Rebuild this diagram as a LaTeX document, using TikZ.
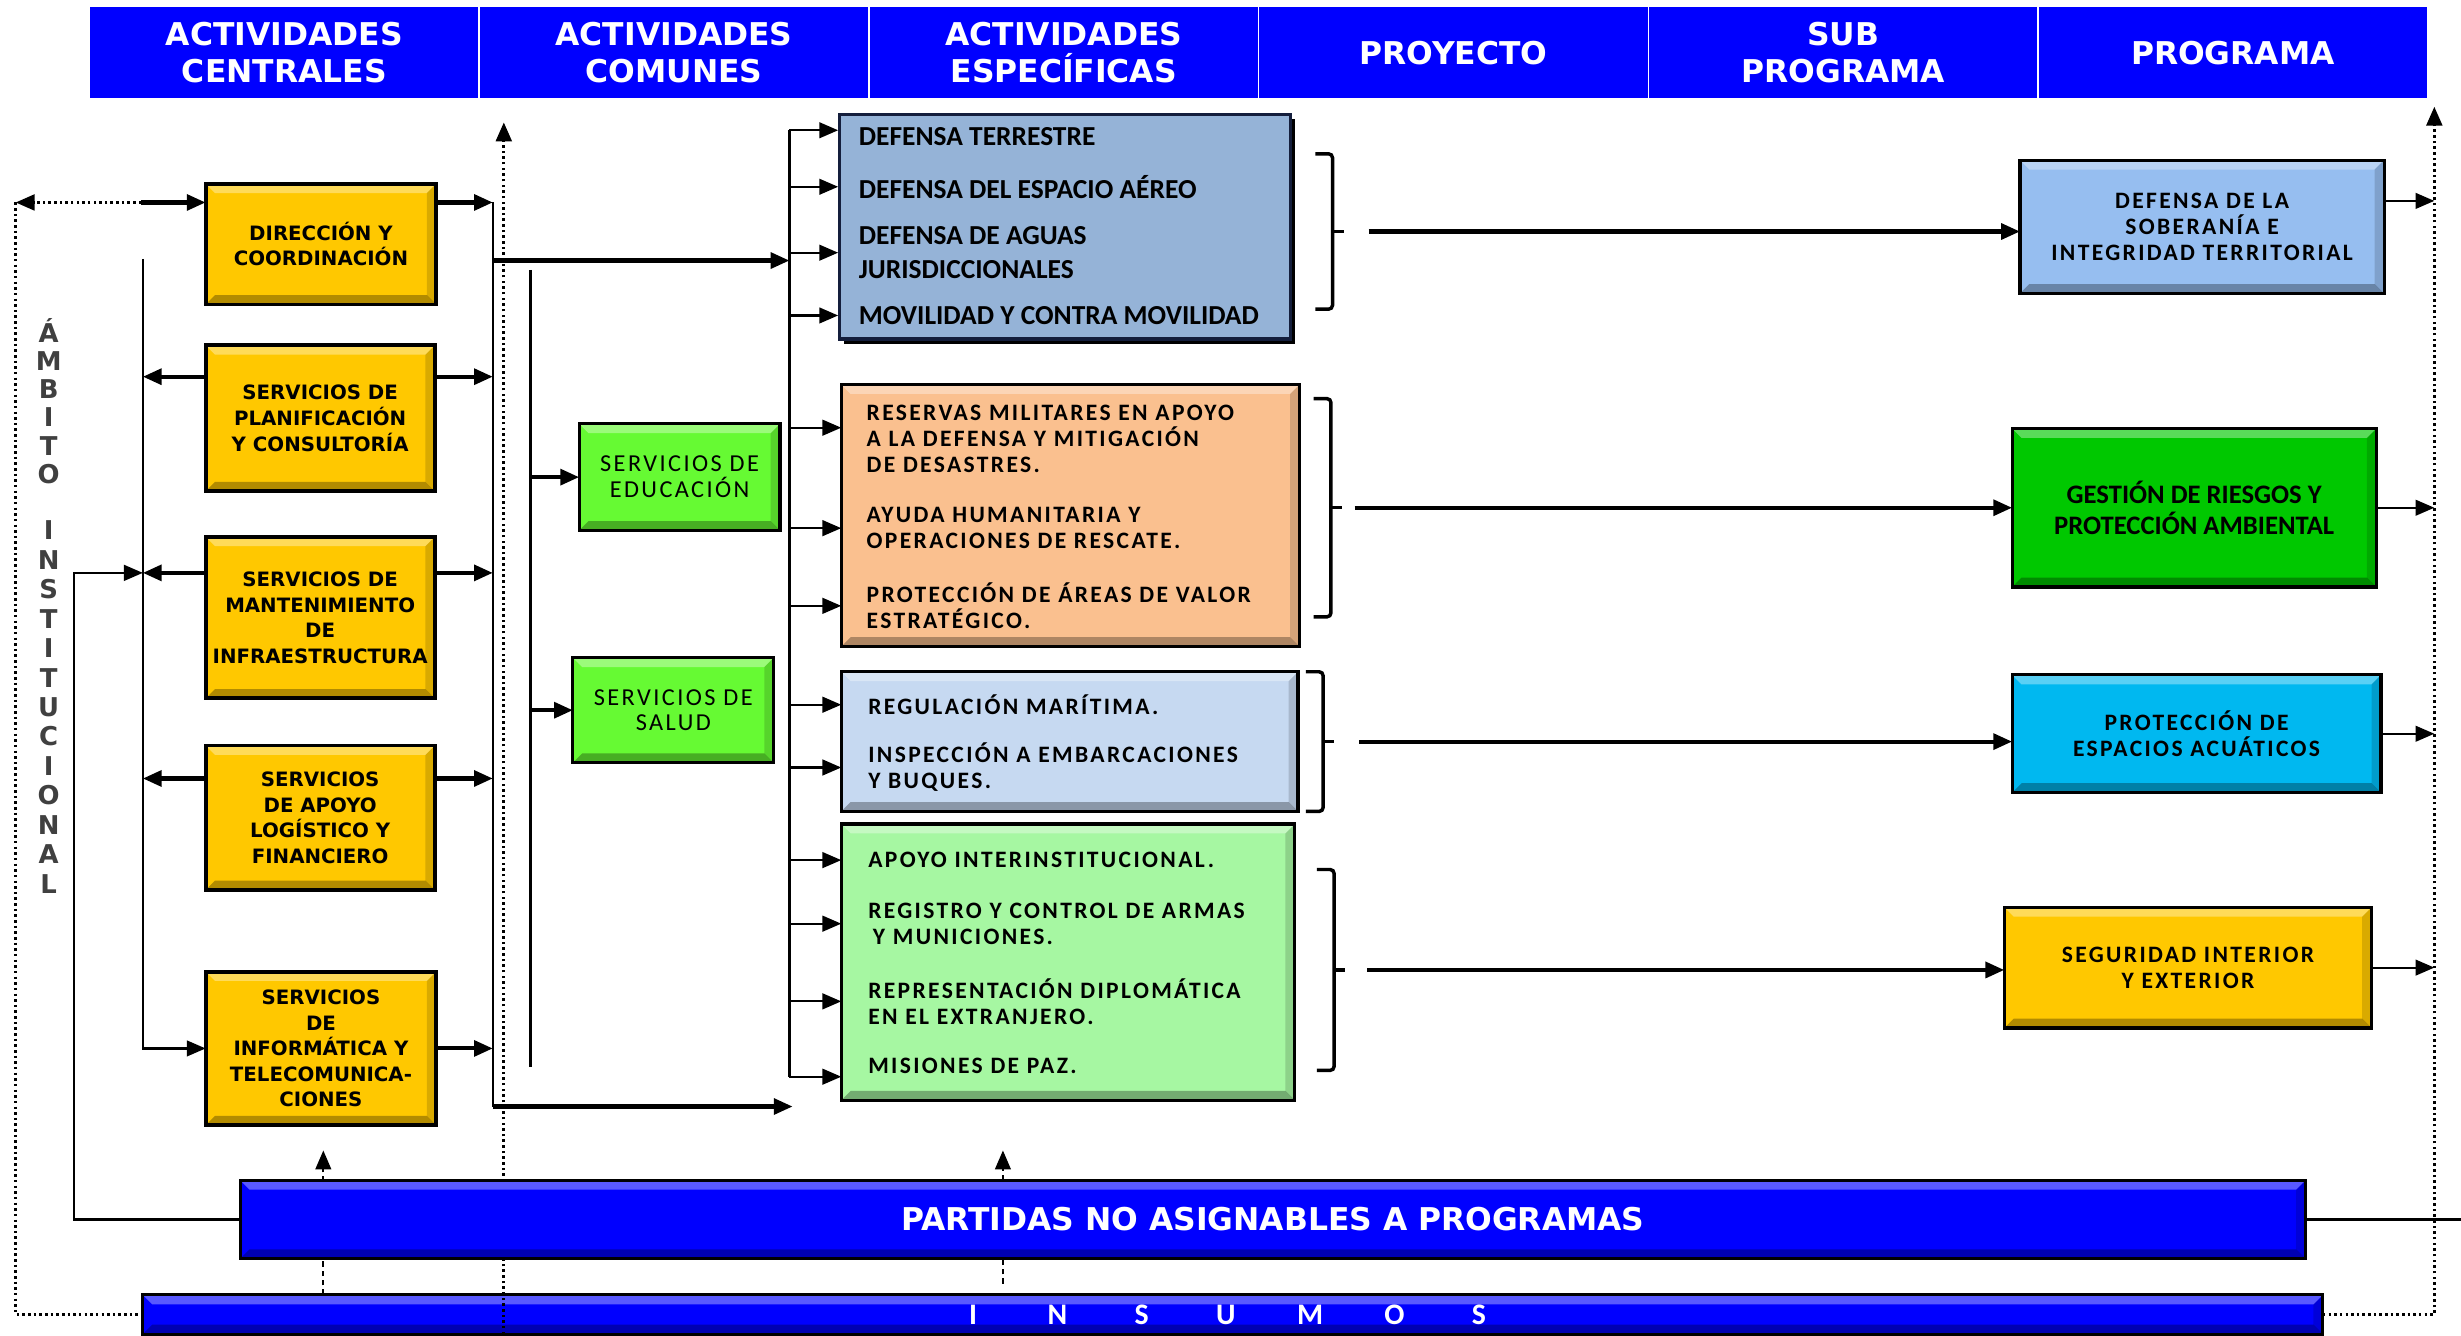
\documentclass[tikz,border=0pt]{standalone}
\usepackage{fontspec}
\usepackage{tikz}
\usetikzlibrary{positioning,fit,arrows.meta,shadows}

\newfontfamily\verdfont{DejaVu Sans}
\newfontfamily\calfont{Carlito}
\newfontfamily\calspfont[LetterSpace=10]{Carlito}

\definecolor{hdrblue}{RGB}{0,0,255}
\definecolor{ygold}{RGB}{255,200,0}
\definecolor{edugreen}{RGB}{102,250,51}
\definecolor{defblue}{RGB}{149,179,215}
\definecolor{defline}{RGB}{20,30,60}
\definecolor{orng}{RGB}{250,192,143}
\definecolor{ltblue}{RGB}{198,217,241}
\definecolor{ltgreen}{RGB}{166,247,162}
\definecolor{progblue}{RGB}{150,190,240}
\definecolor{proggreen}{RGB}{0,200,0}
\definecolor{progcyan}{RGB}{0,184,240}
\definecolor{txtgray}{RGB}{64,64,64}

\newcommand{\bvw}{6pt}
% bracket after a group of specific activities: name, x, top, bottom
\newcommand{\grpbrack}[4]{%
  \draw[brack] (#2-11,#3) -- (#2,#3) -- (#2,#4) -- (#2-11,#4);
  \draw[brack] (#2,{(#3+#4)/2}) -- (#2+7,{(#3+#4)/2});
  \coordinate (#1) at (#2+7,{(#3+#4)/2});
}

\tikzset{
  bevel/.style={fill=#1, draw=black, line width=2pt, inner sep=0pt, outer sep=0pt,
    path picture={
      \fill[white,opacity=.35] (path picture bounding box.north west) -- (path picture bounding box.north east)
        -- ([shift={(-\bvw,-\bvw)}]path picture bounding box.north east)
        -- ([shift={(\bvw,-\bvw)}]path picture bounding box.north west) -- cycle;
      \fill[black,opacity=.3] (path picture bounding box.south west) -- (path picture bounding box.south east)
        -- ([shift={(-\bvw,\bvw)}]path picture bounding box.south east)
        -- ([shift={(\bvw,\bvw)}]path picture bounding box.south west) -- cycle;
      \fill[black,opacity=.15] (path picture bounding box.north east) -- (path picture bounding box.south east)
        -- ([shift={(-\bvw,\bvw)}]path picture bounding box.south east)
        -- ([shift={(-\bvw,-\bvw)}]path picture bounding box.north east) -- cycle;
    }},
  hdr/.style={fill=hdrblue, draw=white, line width=1pt, inner sep=0pt, outer sep=0pt,
    minimum width=248.3pt, minimum height=59pt, text=white, align=center,
    font=\verdfont\bfseries\fontsize{20}{24}\selectfont},
  ybox/.style={bevel=ygold, line width=2.5pt},
  ytxt/.style={inner sep=0pt, align=center, font=\verdfont\bfseries\fontsize{12.6}{16.3}\selectfont},
  gtxt/.style={inner sep=0pt, align=center, font=\calspfont\fontsize{15.5}{16.5}\selectfont},
  specdef/.style={fill=defblue, draw=defline, line width=2pt, inner sep=0pt,
    drop shadow={shadow xshift=3pt, shadow yshift=-3pt, fill=black, opacity=1}},
  deftxt/.style={anchor=west, inner sep=0pt, align=left,
    font=\calfont\bfseries\fontsize{17.5}{22}\selectfont},
  itmtxt/.style={anchor=west, inner sep=0pt, align=left,
    font=\calspfont\bfseries\fontsize{15}{16.5}\selectfont},
  progtxt/.style={inner sep=0pt, align=center, font=\calspfont\bfseries\fontsize{15}{16.5}\selectfont},
  bartxt/.style={inner sep=0pt, text=white, font=\verdfont\bfseries\fontsize{20}{24}\selectfont},
  ambl/.style={inner sep=0pt, text height=12pt, text depth=0pt, text=txtgray,
    font=\verdfont\bfseries\fontsize{16.5}{18}\selectfont},
  insl/.style={inner sep=0pt, text height=12.5pt, text depth=0pt, text=white,
    font=\calfont\bfseries\fontsize{19}{20}\selectfont},
  tip/.style={-{Triangle[length=12pt,width=10pt]}},
  arr/.style={line width=2.6pt, tip},
  tarr/.style={line width=1.4pt, tip},
  thinln/.style={line width=1.4pt},
  dotln/.style={line width=1.8pt, dash pattern=on 1.6pt off 2pt},
  dashln/.style={line width=1.1pt, dash pattern=on 3.5pt off 2.5pt},
  brack/.style={line width=2.2pt, rounded corners=2.5pt}
}

\begin{document}
\begin{tikzpicture}[x=1pt,y=-1pt]
    \useasboundingbox (0,0) rectangle (1568,850.6);

    % column headers
    \node[hdr, anchor=north west] (h1) at (57,4) {ACTIVIDADES\\CENTRALES};
    \node[hdr, right=0pt of h1] (h2) {ACTIVIDADES\\COMUNES};
    \node[hdr, right=0pt of h2] (h3) {ACTIVIDADES\\ESPECÍFICAS};
    \node[hdr, right=0pt of h3] (h4) {PROYECTO};
    \node[hdr, right=0pt of h4] (h5) {SUB\\PROGRAMA};
    \node[hdr, right=0pt of h5] (h6) {PROGRAMA};

    % insumos bar and dotted returns
    \node[bevel=hdrblue, fit={(91,825) (1480,850)}] (insumos) {};
    \foreach \ch [count=\k from 0] in {I,N,S,U,M,O,S}
        \node[insl] (ins\k) at (620+53.7*\k,837.5) {\ch};

    \coordinate (ambL) at (10,129);
    \coordinate (ltop) at (90,129);
    \coordinate (ambR) at (1551,68);
    \coordinate (comT) at (321,78);
    \draw[dotln] (ambL) |- (insumos.west);
    \draw[dotln, tip] (ltop) -- (ambL);
    \draw[dotln, tip] (insumos.east) -| (ambR);
    \draw[dotln, tip] (comT |- insumos.south) -- (comT);

    \coordinate (up1) at (206,733);
    \coordinate (up2) at (639,733);
    \coordinate (up2s) at (639,818);
    \draw[dashln, tip] (up1 |- insumos.north) -- (up1);
    \draw[dashln, tip] (up2s) -- (up2);

    \node[bevel=hdrblue, fit={(153,752) (1469,802)}] (partidas) {};
    \node[bartxt] (partidas-t) at (partidas) {PARTIDAS NO ASIGNABLES A PROGRAMAS};
    \coordinate (pend) at (1568,778);
    \draw[thinln] (partidas.east) -- (pend |- partidas.east);

    % actividades centrales
    \node[ybox, fit={(131,117) (278,194)}] (dir) {};
    \node[ybox, fit={(131,220) (277,313)}] (plan) {};
    \node[ybox, fit={(131,342) (277,445)}] (mant) {};
    \node[ybox, fit={(131,475) (277,567)}] (apoyo) {};
    \node[ybox, fit={(131,619) (278,717)}] (info) {};
    \node[ytxt] (dir-t) at (dir) {DIRECCIÓN Y\\COORDINACIÓN};
    \node[ytxt] (plan-t) at (plan) {SERVICIOS DE\\PLANIFICACIÓN\\Y CONSULTORÍA};
    \node[ytxt] (mant-t) at (mant) {SERVICIOS DE\\MANTENIMIENTO\\DE\\INFRAESTRUCTURA};
    \node[ytxt] (apoyo-t) at (apoyo) {SERVICIOS\\DE APOYO\\LOGÍSTICO Y\\FINANCIERO};
    \node[ytxt] (info-t) at (info) {SERVICIOS\\DE\\INFORMÁTICA Y\\TELECOMUNICA-\\CIONES};

    \foreach \ch [count=\k from 0] in {Á,M,B,I,T,O}
        \node[ambl] (amb\k) at (31,212+18*\k) {\ch};
    \foreach \ch [count=\k from 0] in {I,N,S,T,I,T,U,C,I,O,N,A,L}
        \node[ambl] (inst\k) at (31,338+18.75*\k) {\ch};

    \coordinate (dir-a) at ([yshift=-12pt]dir.north);
    \coordinate (plan-a) at ([yshift=-20pt]plan.north);
    \coordinate (mant-a) at ([yshift=-23pt]mant.north);
    \coordinate (apoyo-a) at ([yshift=-21pt]apoyo.north);
    \coordinate (info-a) at (info.center);

    \coordinate (lbx) at (91,165);
    \coordinate (lturn) at (47,0);
    \draw[arr] (ltop |- dir-a) -- (dir.west |- dir-a);
    \draw[tarr] (lbx) |- (info.west);
    \draw[tarr] (partidas.west) -| (lturn |- mant-a) -- (lbx |- mant-a);
    \foreach \b in {plan,mant,apoyo}
        \draw[arr] (\b.west |- \b-a) -- (lbx |- \b-a);

    % actividades comunes
    \coordinate (cbx) at (314,705);
    \coordinate (cmid) at (314,166);
    \coordinate (cend) at (505,705);
    \coordinate (sbx) at (503,0);
    \draw[thinln] (cbx |- dir-a) -- (cbx);
    \foreach \b in {dir,plan,mant,apoyo,info}
        \draw[arr] (\b.east |- \b-a) -- (cbx |- \b-a);
    \draw[arr] (cmid) -- (sbx |- cmid);
    \draw[arr] (cbx) -- (cend);

    \node[bevel=edugreen, fit={(369,270) (497,338)}] (edu) {};
    \node[bevel=edugreen, fit={(365,419) (493,486)}] (salud) {};
    \node[gtxt] (edu-t) at (edu) {SERVICIOS DE\\EDUCACIÓN};
    \node[gtxt] (salud-t) at (salud) {SERVICIOS DE\\SALUD};
    \coordinate (mbT) at (338,172);
    \coordinate (mbB) at (338,680);
    \draw[thinln] (mbT) -- (mbB);
    \draw[arr] (mbT |- edu.west) -- (edu.west);
    \draw[arr] (mbT |- salud.west) -- (salud.west);

    % actividades especificas
    \node[specdef, fit={(535,73) (822,216)}] (sdef) {};
    \node[deftxt] (d1) at (547,87) {DEFENSA TERRESTRE};
    \node[deftxt] (d2) at (547,119) {DEFENSA DEL ESPACIO AÉREO};
    \node[deftxt] (d3) at (547,161) {DEFENSA DE AGUAS\\JURISDICCIONALES};
    \node[deftxt] (d4) at (547,201) {MOVILIDAD Y CONTRA MOVILIDAD};

    \node[bevel=orng, fit={(536,245) (828,412)}] (sorg) {};
    \node[itmtxt] (o1) at (552,279.5) {RESERVAS MILITARES EN APOYO\\A LA DEFENSA Y MITIGACIÓN\\DE DESASTRES.};
    \node[itmtxt] (o2) at (552,336.5) {AYUDA HUMANITARIA Y\\OPERACIONES DE RESCATE.};
    \node[itmtxt] (o3) at (552,386) {PROTECCIÓN DE ÁREAS DE VALOR\\ESTRATÉGICO.};

    \node[bevel=ltblue, fit={(536,428) (827,517)}] (sreg) {};
    \node[itmtxt] (r1) at (553,449) {REGULACIÓN MARÍTIMA.};
    \node[itmtxt] (r2) at (553,489) {INSPECCIÓN A EMBARCACIONES\\Y BUQUES.};

    \node[bevel=ltgreen, fit={(536,525) (825,701)}] (sgrn) {};
    \node[itmtxt] (g1) at (553,548) {APOYO INTERINSTITUCIONAL.};
    \node[itmtxt] (g2) at (553,588.5) {REGISTRO Y CONTROL DE ARMAS\\\hspace*{3pt}Y MUNICIONES.};
    \node[itmtxt] (g3) at (553,638) {REPRESENTACIÓN DIPLOMÁTICA\\EN EL EXTRANJERO.};
    \node[itmtxt] (g4) at (553,679) {MISIONES DE PAZ.};

    \coordinate (d1a) at ([yshift=4pt]d1.west);
    \coordinate (o1a) at ([yshift=7pt]o1.west);
    \coordinate (g4a) at ([yshift=-7pt]g4.west);
    \draw[thinln] (sbx |- d1a) -- (sbx |- g4a);
    \foreach \t/\b in {d1a/sdef,d2/sdef,d3/sdef,d4/sdef,o1a/sorg,o2/sorg,o3/sorg,r1/sreg,r2/sreg,g1/sgrn,g2/sgrn,g3/sgrn,g4a/sgrn}
        \draw[tarr] (sbx |- \t) -- (\b.west |- \t);

    % programas
    \node[bevel=progblue, fit={(1287,102) (1519,187)}] (progdef) {};
    \node[bevel=proggreen, fit={(1282,273) (1514,374)}] (gestion) {};
    \node[bevel=progcyan, fit={(1282,430) (1517,505)}] (espacios) {};
    \node[bevel=ygold, fit={(1277,578) (1511,655)}] (segur) {};
    \node[progtxt] (progdef-t) at (progdef) {DEFENSA DE LA\\SOBERANÍA E\\INTEGRIDAD TERRITORIAL};
    \node[inner sep=0pt, align=center, font=\calfont\bfseries\fontsize{17}{20}\selectfont]
        (gestion-t) at (gestion) {GESTIÓN DE RIESGOS Y\\PROTECCIÓN AMBIENTAL};
    \node[progtxt] (espacios-t) at (espacios) {PROTECCIÓN DE\\ESPACIOS ACUÁTICOS};
    \node[progtxt] (segur-t) at (segur) {SEGURIDAD INTERIOR\\Y EXTERIOR};

    \grpbrack{bk1}{849}{98}{197}
    \grpbrack{bk2}{848}{254}{393}
    \grpbrack{bk3}{843}{428}{517}
    \grpbrack{bk4}{850}{554}{682}
    \draw[arr] ([xshift=16pt]bk1) -- (progdef.west |- bk1);
    \draw[arr] ([xshift=8pt]bk2) -- (gestion.west |- bk2);
    \draw[arr] ([xshift=16pt]bk3) -- (espacios.west |- bk3);
    \draw[arr] ([xshift=14pt]bk4) -- (segur.west |- bk4);

    \coordinate (pd-a) at ([yshift=-26pt]progdef.north east);
    \draw[tarr] (pd-a) -- (ambR |- pd-a);
    \draw[tarr] (gestion.east) -- (ambR |- gestion.east);
    \draw[tarr] (espacios.east) -- (ambR |- espacios.east);
    \draw[tarr] (segur.east) -- (ambR |- segur.east);

\end{tikzpicture}
\end{document}
